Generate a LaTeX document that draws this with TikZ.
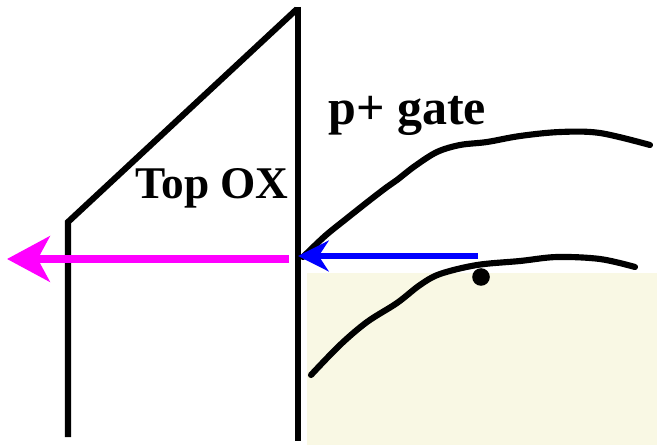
\documentclass[tikz,border=0pt]{standalone}
\usepackage{fontspec}
\setmainfont{Liberation Serif}
\usetikzlibrary{arrows.meta}
\definecolor{beige}{RGB}{249,248,228}
\definecolor{magentaarrow}{RGB}{255,0,255}
\definecolor{bluearrow}{RGB}{0,0,255}
\tikzset{
  wall/.style={line width=4.6pt, black},
  curve/.style={line width=4.6pt, black, line cap=round},
  label/.style={anchor=base west, inner sep=0pt, font=\bfseries\fontsize{34}{40}\selectfont},
  magarrow/.style={line width=6pt, magentaarrow, -{Stealth[length=32pt,width=34pt,inset=9pt]}},
  bluarrow/.style={line width=4pt, bluearrow, -{Stealth[length=23pt,width=23pt,inset=7.5pt]}}
}
\begin{document}
\begin{tikzpicture}[x=0.75pt,y=-0.75pt]
\useasboundingbox (0,0) rectangle (657,445);
% substrate region
\fill[beige] (307,273) rectangle (657,445);
% oxide outline
\draw[wall] (68,437) -- (68,222) -- (297,9);
\draw[wall] (298,7) -- (298,441);
% labels
\node[label] (ox) at (135,199) {Top OX};
\node[label, font=\bfseries\fontsize{37.5}{44}\selectfont] (gate) at (328,125) {p+ gate};
% curves
\draw[curve] plot[smooth, tension=0.55] coordinates {(303,257) (325,236) (346,219) (370,200) (387,187) (397,180) (415,166) (437,152) (460,145) (487,142) (520,136) (560,132) (600,133) (650,145)};
\draw[curve] plot[smooth, tension=0.55] coordinates {(311,375) (340,345) (367,322) (397,303) (420,285) (440,274) (477,265) (520,261) (557,257) (600,259) (635,267)};
% dot
\fill (481,277) circle (6.6pt);
% arrows
\coordinate (mstart) at (289,259);
\coordinate (mtip) at (7,259);
\coordinate (bstart) at (478,256);
\coordinate (btip) at (298,256);
\draw[magarrow] (mstart) -- (mtip);
\draw[bluarrow] (bstart) -- (btip);
\end{tikzpicture}
\end{document}
